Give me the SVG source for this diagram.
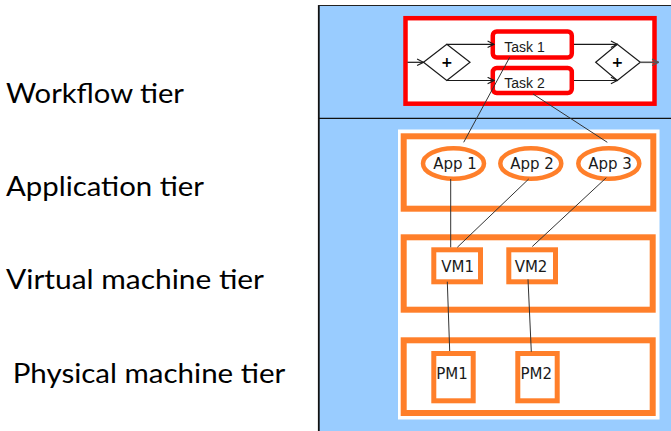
<svg xmlns="http://www.w3.org/2000/svg" width="671" height="431" viewBox="0 0 671 431">
<defs>
<style>
.lbl{font-family:Lato,"Liberation Sans",sans-serif;font-size:27px;fill:#000}
.task{font-family:"Liberation Sans",Arial,sans-serif;font-size:14px;fill:#1a1a1a;text-anchor:middle}
.nd{font-family:"DejaVu Sans",sans-serif;font-size:15px;fill:#1a1a1a;text-anchor:middle}
.tier{fill:none;stroke:#ff7f2a;stroke-width:6}
.box{fill:#fff;stroke:#ff7f2a;stroke-width:5}
.app{fill:#fff;stroke:#ff7f2a;stroke-width:4.5}
.red{fill:#fff;stroke:#ff0000;stroke-width:4.5}
.gw{fill:#fff;stroke:#1a1a1a;stroke-width:1.2}
.flow{fill:none;stroke:#1a1a1a;stroke-width:1.2}
.link{fill:none;stroke:#333;stroke-width:1}
</style>
<marker id="ah" viewBox="0 0 10 10" refX="9" refY="5" markerWidth="8" markerHeight="8" markerUnits="userSpaceOnUse" orient="auto">
<path d="M1,1 L9,5 L1,9" fill="none" stroke="#1a1a1a" stroke-width="1.4"/>
</marker>
<marker id="ahg" viewBox="0 0 10 10" refX="9" refY="5" markerWidth="8" markerHeight="8" markerUnits="userSpaceOnUse" orient="auto">
<path d="M1,1 L9,5 L1,9" fill="none" stroke="#555" stroke-width="1.6"/>
</marker>
</defs>

<g id="labels">
<text class="lbl" x="6" y="102.7" textLength="178" lengthAdjust="spacingAndGlyphs">Workflow tier</text>
<text class="lbl" x="6" y="196" textLength="198" lengthAdjust="spacingAndGlyphs">Application tier</text>
<text class="lbl" x="6" y="289.3" textLength="258" lengthAdjust="spacingAndGlyphs">Virtual machine tier</text>
<text class="lbl" x="12.7" y="382.7" textLength="272.6" lengthAdjust="spacingAndGlyphs">Physical machine tier</text>
</g>

<g id="panel">
<rect x="318" y="5" width="360" height="430" fill="#99ccff"/>
<line x1="318.8" y1="5" x2="318.8" y2="431" stroke="#111" stroke-width="1.8"/>
<line x1="318" y1="5.5" x2="671" y2="5.5" stroke="#222" stroke-width="1"/>
<line x1="318" y1="118.3" x2="671" y2="118.3" stroke="#111" stroke-width="1.2"/>
<rect x="398" y="129.5" width="261.5" height="290" fill="#fff"/>
</g>

<g id="workflow">
<rect class="red" x="405.5" y="18.2" width="249" height="85.5"/>
</g>

<g id="gateway1">
<polygon class="gw" points="423.5,62.3 446.8,44.3 470,62.3 446.8,80.5"/>
<text x="446.8" y="67" font-family="DejaVu Sans,sans-serif" font-size="14" font-weight="bold" text-anchor="middle" fill="#000">+</text>
</g>
<g id="gateway2">
<polygon class="gw" points="595.7,62.3 617.3,44.3 640.3,62.3 617.3,80.5"/>
<text x="617.3" y="67" font-family="DejaVu Sans,sans-serif" font-size="14" font-weight="bold" text-anchor="middle" fill="#000">+</text>
</g>

<g id="task1">
<rect class="red" x="492.8" y="31.5" width="79" height="26" rx="4"/>
<text class="task" x="524.5" y="52.3">Task 1</text>
</g>
<g id="task2">
<rect class="red" x="492.8" y="68" width="79" height="25" rx="4"/>
<text class="task" x="524.5" y="88">Task 2</text>
</g>

<g id="app-tier"><rect class="tier" x="403.7" y="136.3" width="249.6" height="72.4"/></g>
<g id="vm-tier"><rect class="tier" x="403.7" y="237.3" width="249" height="72.4"/></g>
<g id="pm-tier"><rect class="tier" x="403.7" y="340.3" width="249" height="72.7"/></g>

<g id="app1"><ellipse class="app" cx="453.5" cy="163.5" rx="30.5" ry="15.3"/><text class="nd" x="455" y="169.3">App 1</text></g>
<g id="app2"><ellipse class="app" cx="530.8" cy="163.5" rx="30.5" ry="15.3"/><text class="nd" x="532" y="169.3">App 2</text></g>
<g id="app3"><ellipse class="app" cx="608.8" cy="163.5" rx="30.5" ry="15.3"/><text class="nd" x="610" y="169.3">App 3</text></g>

<g id="vm1"><rect class="box" x="433.8" y="249.8" width="46.7" height="32"/><text class="nd" x="457.7" y="271.7">VM1</text></g>
<g id="vm2"><rect class="box" x="508.8" y="249.8" width="46.7" height="32"/><text class="nd" x="531" y="271.7">VM2</text></g>

<g id="pm1"><rect class="box" x="433.8" y="353.5" width="39.4" height="47.3"/><text class="nd" x="452" y="379.3">PM1</text></g>
<g id="pm2"><rect class="box" x="517.8" y="353.5" width="39.4" height="47.3"/><text class="nd" x="536.2" y="379.3">PM2</text></g>

<g id="connectors">
<line class="flow" x1="407.5" y1="62.3" x2="423.5" y2="62.3" marker-end="url(#ah)"/>
<line class="flow" x1="446.8" y1="44.3" x2="494" y2="44.3" marker-end="url(#ah)"/>
<line class="flow" x1="446.8" y1="80.5" x2="494" y2="80.5" marker-end="url(#ah)"/>
<line class="flow" x1="574" y1="44.3" x2="617.3" y2="44.3" marker-end="url(#ah)"/>
<line class="flow" x1="574" y1="80.5" x2="617.3" y2="80.5" marker-end="url(#ah)"/>
<line x1="640.3" y1="62.3" x2="658.5" y2="62.3" stroke="#555" stroke-width="1.6" marker-end="url(#ahg)"/>
<line class="link" x1="509.7" y1="57.3" x2="463.7" y2="142.3"/>
<line class="link" x1="533" y1="94" x2="607.3" y2="142.3"/>
<line class="link" x1="450.7" y1="179" x2="450.7" y2="247.3"/>
<line class="link" x1="528.7" y1="179" x2="457.3" y2="247.3"/>
<line class="link" x1="606.3" y1="177.7" x2="532.3" y2="246.5"/>
<line class="link" x1="447.3" y1="281.7" x2="449.7" y2="351"/>
<line class="link" x1="528" y1="279.3" x2="531.3" y2="351.7"/>
</g>
</svg>
